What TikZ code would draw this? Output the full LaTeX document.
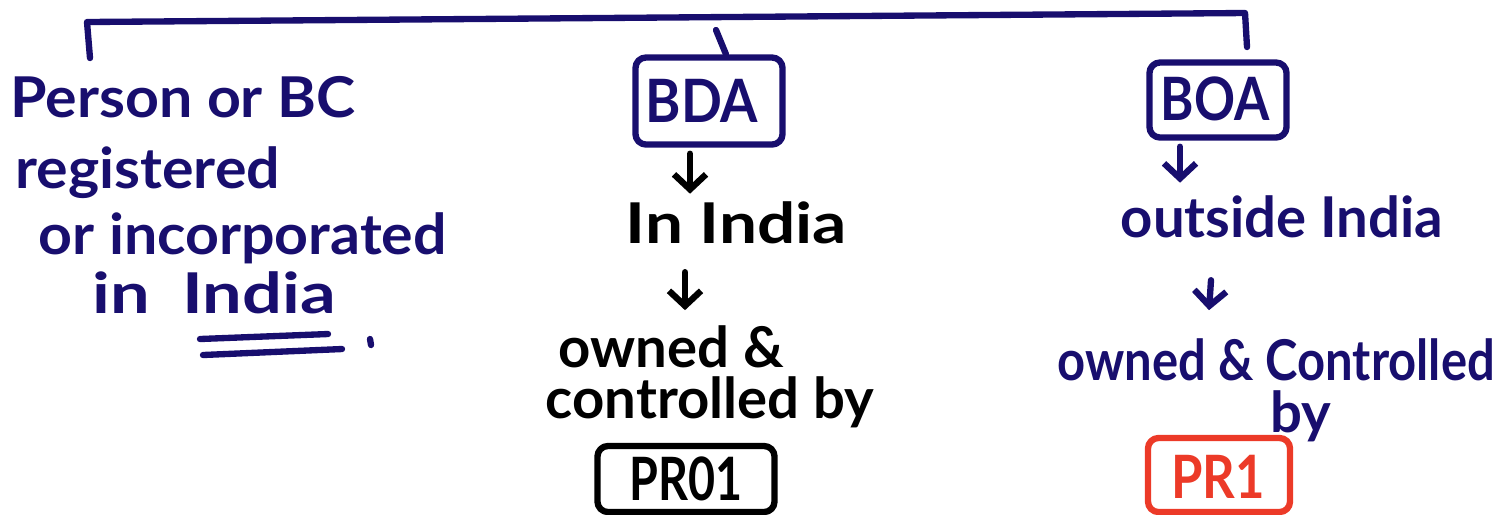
\documentclass[tikz,border=0pt]{standalone}
\usepackage{fontspec}
\usepackage{graphicx}
\setmainfont{Lato}
\usetikzlibrary{arrows.meta}
\definecolor{ink}{RGB}{24,14,110}
\definecolor{redink}{RGB}{236,58,40}
% horizontal stretch of a text
\newcommand\hstretch[2]{\scalebox{#1}[1]{#2}}
\begin{document}
\begin{tikzpicture}[x=0.01cm,y=-0.01cm,
  line cap=round, line join=round,
  pen/.style={line width=1.8pt},
  txt/.style={inner sep=0pt, anchor=base west, font=\fontsize{16}{19}\selectfont\bfseries},
  lbl/.style={inner sep=0pt, font=\fontsize{17}{20}\selectfont\bfseries},
  boxed/.style={pen, draw, rounded corners=3pt, inner sep=0pt},
  down/.style={pen, -{Straight Barb[length=0.15cm,width=0.32cm]}},
]
\useasboundingbox (0,0) rectangle (1501,514);

% left branch text
\node[txt, ink] (p1) at (10,117) {\hstretch{1.05}{Person or BC}};
\node[txt, ink] (p2) at (15,188) {\hstretch{1.05}{registered}};
\node[txt, ink] (p3) at (38,254) {\hstretch{1.05}{or incorporated}};
\node[txt, ink] (p4) at (92,313) {\hstretch{1.25}{in\hspace{0.12cm} India}};

% boxes
\node[boxed, ink, minimum width=1.47cm, minimum height=0.87cm] (bda) at (709,101) {};
\node[lbl, ink] (bdat) at (702,101) {\hstretch{0.9}{BDA}};
\node[boxed, ink, minimum width=1.37cm, minimum height=0.75cm] (boa) at (1218,100) {};
\node[lbl, ink] (boat) at (1215,99) {\hstretch{0.85}{BOA}};
\node[boxed, black, minimum width=1.77cm, minimum height=0.66cm] (pr01) at (686,479) {};
\node[lbl, black] (pr01t) at (pr01) {\hstretch{0.78}{PR01}};
\node[boxed, redink, minimum width=1.42cm, minimum height=0.74cm] (pr1) at (1219,475) {};
\node[lbl, redink] (pr1t) at (1218,477) {\hstretch{0.85}{PR1}};

% middle branch text
\node[txt, black] (in) at (625,243) {\hstretch{1.2}{In India}};
\node[txt, black] (own1) at (558,367) {owned \&};
\node[txt, black] (ctl1) at (545,418) {controlled by};

% right branch text
\node[txt, ink] (out) at (1120,237) {outside India};
\node[txt, ink] (own2) at (1057,380) {\hstretch{0.87}{owned \& Controlled}};
\node[txt, ink] (by2) at (1270,432) {by};

% top bracket
\coordinate (tl) at (90,58);
\coordinate (tr) at (1247,47);
\draw[pen, ink] (tl) -- (87,22) -- (1245,13) -- (tr);
\draw[pen, ink] (716,30) -- ([xshift=0.17cm]bda.north);

% arrows
\draw[down, black] (bda.south) ++(-19,6) -- ++(0,40);
\draw[down, black] (in.south -| 685,0) ++(0,28) -- ++(0,38);
\draw[down, ink] (boa.south) ++(-38,6) -- ++(0,36);
\draw[down, ink] (out.south -| 1211,0) ++(0,42) -- ++(-2,30);

% double underline
\draw[pen, ink] (200,339) -- (328,334);
\draw[pen, ink] (203,355) -- (342,349);
\draw[pen, ink] (370,339) -- (371,345);
\end{tikzpicture}
\end{document}
